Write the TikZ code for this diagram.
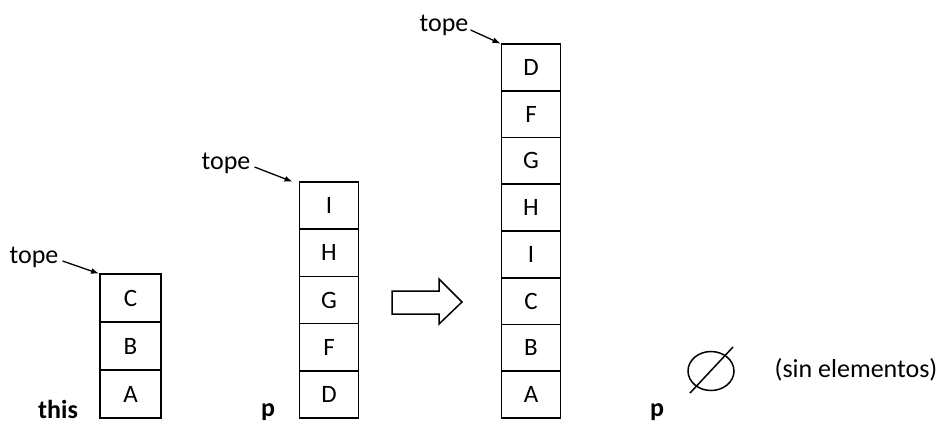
\documentclass[tikz,border=0pt]{standalone}
\usepackage{fontspec}
\setmainfont{Carlito}
\usetikzlibrary{arrows.meta}
\begin{document}
\begin{tikzpicture}[x=1pt,y=-1pt,
  cell/.style={draw,line width=1.5pt,minimum width=59pt,minimum height=47pt,inner sep=0pt,outer sep=0pt,font=\fontsize{25}{27}\selectfont},
  lbl/.style={inner sep=2pt,font=\fontsize{26}{28}\selectfont},
  bold/.style={inner sep=0pt,font=\fontsize{26}{28}\selectfont\bfseries},
  ptr/.style={line width=1.3pt,-{Latex[length=8pt,width=6pt]},shorten >=1pt}]
\useasboundingbox (0,0) rectangle (941,424);
% stack 1
\node[cell,minimum width=61pt,minimum height=48pt] (a3) at (130.5,298) {C};
\node[cell,minimum width=61pt,minimum height=48pt] (a2) at (130.5,346) {B};
\node[cell,minimum width=61pt,minimum height=48pt] (a1) at (130.5,394) {A};
\node[lbl] (t1) at (34,257) {tope};
\draw[ptr] (t1.east) ++(2,4) coordinate (s1) (s1) -- (a3.north west);
\node[bold,anchor=base] (this) at (58,418) {this};
% stack 2
\node[cell] (b5) at (329,205.6) {I};
\node[cell] (b4) at (329,252.8) {H};
\node[cell] (b3) at (329,300) {G};
\node[cell] (b2) at (329,347.2) {F};
\node[cell] (b1) at (329,394.4) {D};
\node[lbl] (t2) at (226,163) {tope};
\draw[ptr] (t2.east) ++(2,4) coordinate (s2) (s2) -- ([xshift=-6pt]b5.north west);
\node[bold,anchor=base] (p1) at (268,416) {p};
% hollow arrow
\draw[line width=1.5pt,line join=miter] (392,291) -- (439,291) -- (439,279) -- (462,302) -- (439,324) -- (439,314) -- (392,314) -- cycle;
% stack 3
\node[cell,minimum height=46.75pt] (c8) at (531,67.4) {D};
\node[cell,minimum height=46.75pt] (c7) at (531,114.1) {F};
\node[cell,minimum height=46.75pt] (c6) at (531,160.9) {G};
\node[cell,minimum height=46.75pt] (c5) at (531,207.6) {H};
\node[cell,minimum height=46.75pt] (c4) at (531,254.4) {I};
\node[cell,minimum height=46.75pt] (c3) at (531,301.1) {C};
\node[cell,minimum height=46.75pt] (c2) at (531,347.9) {B};
\node[cell,minimum height=46.75pt] (c1) at (531,394.6) {A};
\node[lbl] (t3) at (444,25) {tope};
\draw[ptr] (t3.east) ++(0,5) coordinate (s3) (s3) -- (c8.north west);
\node[bold,anchor=base] (p2) at (657,416) {p};
% empty set
\draw[line width=1.5pt] (711,371) ellipse [x radius=23,y radius=19.5];
\draw[line width=1.5pt] (690,393) -- (733,347);
\node[lbl] (sin) at (856,370) {(sin elementos)};
\end{tikzpicture}
\end{document}
